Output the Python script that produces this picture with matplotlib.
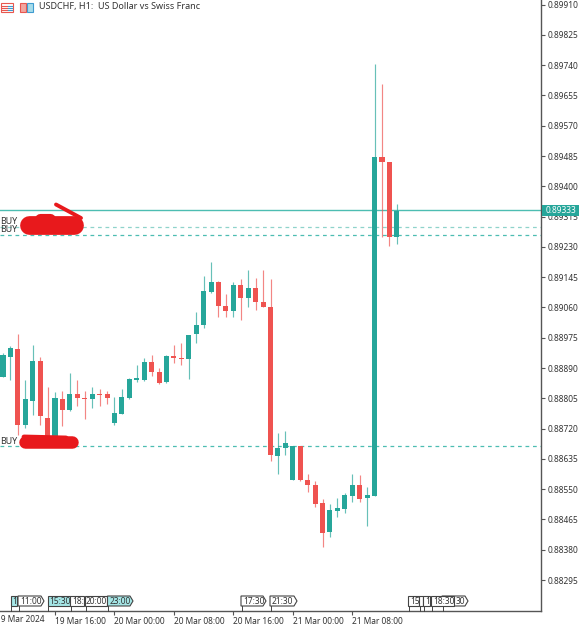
import numpy as np
import matplotlib
matplotlib.use("Agg")
import matplotlib.pyplot as plt
from matplotlib.patches import Polygon, Rectangle

plt.rcParams['font.family'] = ['Noto Sans', 'DejaVu Sans']

# H1 candles, prices in points (1e-5)
opens = [88866, 88922, 88943, 88730, 88798, 88911, 88749, 88699, 88802, 88772, 88817, 88806, 88803, 88817,
         88817, 88735, 88761, 88805, 88857, 88857, 88906, 88878, 88852, 88925, 88919, 88915, 88986, 89011,
         89103, 89131, 89064, 89051, 89123, 89088, 89115, 89076, 89062, 88644, 88667, 88576, 88672, 88576,
         88562, 88511, 88431, 88490, 88495, 88532, 88562, 88526, 88532, 89481, 89469, 89257]
closes = [88927, 88946, 88730, 88802, 88909, 88756, 88699, 88805, 88772, 88817, 88805, 88803, 88817, 88814,
          88805, 88763, 88808, 88859, 88861, 88906, 88878, 88849, 88925, 88918, 88915, 88982, 89011, 89105,
          89131, 89064, 89051, 89123, 89088, 89115, 89074, 89062, 88646, 88667, 88679, 88671, 88576, 88563,
          88509, 88428, 88492, 88497, 88534, 88562, 88522, 88534, 89483, 89468, 89257, 89332]
highs = [88933, 88952, 88986, 88857, 88956, 88922, 88836, 88824, 88826, 88875, 88857, 88826, 88836, 88831,
         88826, 88808, 88831, 88861, 88899, 88918, 88927, 88889, 88926, 88955, 88961, 88983, 89048, 89149,
         89187, 89133, 89097, 89131, 89139, 89165, 89142, 89165, 89139, 88709, 88714, 88671, 88672, 88593,
         88573, 88522, 88509, 88525, 88539, 88593, 88590, 88555, 89744, 89687, 89469, 89351]
lows = [88866, 88857, 88702, 88721, 88758, 88730, 88688, 88688, 88726, 88770, 88784, 88747, 88779, 88784,
        88789, 88730, 88761, 88802, 88852, 88855, 88868, 88845, 88849, 88905, 88899, 88859, 88961, 89003,
        89100, 89034, 89034, 89034, 89025, 89062, 89053, 89061, 88630, 88592, 88646, 88576, 88573, 88542,
        88501, 88389, 88417, 88471, 88484, 88515, 88515, 88447, 88532, 89259, 89233, 89238]

price_ticks = [89910, 89825, 89740, 89655, 89570, 89485, 89400, 89315, 89230, 89145, 89060,
               88975, 88890, 88805, 88720, 88635, 88550, 88465, 88380, 88295]
time_tick_pos = [7, 15, 23, 31, 39, 47]
time_tick_labels = ['19 Mar 16:00', '20 Mar 00:00', '20 Mar 08:00',
                    '20 Mar 16:00', '21 Mar 00:00', '21 Mar 08:00']
first_time_label = '19 Mar 2024'
bid = 89333
order_levels = [89287, 89263, 88671]

GREEN = '#26a69a'
RED = '#ef5350'
LINE = '#4dbdb2'
AXIS = '#555555'
TEXT = '#333333'

W, H = 584, 625
fig = plt.figure(figsize=(W / 100, H / 100), dpi=100, facecolor='white')
ax = fig.add_axes([0, (H - 610.7) / H, 541 / W, 610.7 / H])

o, c, hi, lo = [np.array(a) / 1e5 for a in (opens, closes, highs, lows)]
x = np.arange(len(o))
up = c >= o
colors = [GREEN if u else RED for u in up]

ax.vlines(x, lo, hi, colors=colors, linewidth=0.85, alpha=0.7, zorder=3)
ax.bar(x, np.maximum(np.abs(c - o), 0.00003), bottom=np.minimum(o, c), width=0.68,
       color=colors, linewidth=0, zorder=4)

ax.axhline(bid / 1e5, color=LINE, linewidth=1.0, zorder=2)
ax.axhline(order_levels[0] / 1e5, color='#8fd3cb', linewidth=0.9, linestyle=(0, (3, 3)), zorder=2)
ax.axhline(order_levels[1] / 1e5, color=LINE, linewidth=0.9, linestyle=(0, (3, 3)), zorder=2)
ax.axhline(order_levels[2] / 1e5, color=LINE, linewidth=0.9, linestyle=(0, (3, 3)), zorder=2)

for s in ('top', 'left'):
    ax.spines[s].set_visible(False)
for s in ('right', 'bottom'):
    ax.spines[s].set_color(AXIS)
    ax.spines[s].set_linewidth(1.0)

ax.yaxis.tick_right()
ax.set_yticks([p / 1e5 for p in price_ticks])
ax.set_yticklabels(['%.5f' % (p / 1e5) for p in price_ticks], fontsize=6.0, color=TEXT)
ax.tick_params(axis='y', length=3, width=0.8, color=AXIS, pad=1.5)
ax.set_xticks(time_tick_pos)
ax.set_xticklabels(time_tick_labels, fontsize=6.0, color=TEXT, ha='left')
ax.tick_params(axis='x', length=3, width=0.8, color=AXIS, pad=1.5)
# limits after the ticks, set_xticks widens the view otherwise
ax.set_xlim(-0.404, 72.4)
ax.set_ylim(0.88209, 0.89923)

# overlay in pixel coordinates for the terminal decorations
ov = fig.add_axes([0, 0, 1, 1], facecolor='none')
ov.set_xlim(0, W)
ov.set_ylim(H, 0)
ov.axis('off')

# first time label runs off the left edge
ov.text(-4.5, 619.5, first_time_label, fontsize=6.0, color=TEXT, va='center', ha='left')

# current price box
ov.add_patch(Rectangle((542, 205), 37, 11, facecolor=GREEN, edgecolor='none', zorder=5))
ov.text(560.5, 210.5, '0.89333', color='white', fontsize=6.0, ha='center', va='center', zorder=6)

# header
ov.text(39, 7, 'USDCHF, H1:  US Dollar vs Swiss Franc', fontsize=6.5, color=TEXT, va='center')
ov.add_patch(Rectangle((1, 3), 12, 9, facecolor='white', edgecolor='#e8574f', linewidth=0.8))
for yy in (5.5, 7.5, 9.5):
    ov.plot([2, 7], [yy, yy], color='#e8574f', linewidth=0.8)
    ov.plot([8, 12], [yy, yy], color='#3f9bd0', linewidth=0.8)
ov.add_patch(Rectangle((20, 3), 6, 9, facecolor='#f2a6a0', edgecolor='#e8574f', linewidth=0.8))
ov.add_patch(Rectangle((27, 3), 6, 9, facecolor='#a6dcea', edgecolor='#3f9bd0', linewidth=0.8))

# order labels with the red scribbles over them
for yy in (221, 230, 441):
    ov.text(0.5, yy, 'BUY', fontsize=6.4, color=TEXT, va='center', zorder=6)
SCRIBBLE = '#e8191c'
ov.plot([29, 74], [225, 225], color=SCRIBBLE, linewidth=13.5, solid_capstyle='round', zorder=7)
ov.plot([40, 50], [219, 219], color=SCRIBBLE, linewidth=8, solid_capstyle='round', zorder=7)
ov.plot([56, 81], [204.5, 218], color=SCRIBBLE, linewidth=2.8, solid_capstyle='round', zorder=7)
ov.plot([25, 72], [442, 442], color=SCRIBBLE, linewidth=9, solid_capstyle='round', zorder=7)
ov.plot([24, 66], [437, 438], color=SCRIBBLE, linewidth=3.5, solid_capstyle='round', zorder=7)

# event tags above the time axis: left, right, label, fill, pointed, text x
tags = [(10.5, 17, '1', '#a5e6e6', False, 12), (18, 44, '11:00', 'white', True, 20),
        (47.5, 70, '15:30', '#a5e6e6', False, 49), (70, 84, '18:', 'white', False, 72),
        (85, 107, '20:00', 'white', False, 86), (107.5, 133, '23:00', '#a5e6e6', True, 109.5),
        (241, 266, '17:30', 'white', True, 243), (270, 297, '21:30', 'white', True, 272),
        (408, 419, '15', 'white', False, 410), (419, 423, '', 'white', False, 420),
        (423, 430, '1', 'white', False, 425), (442, 468, '30', 'white', True, 456),
        (431, 454, '18:30', 'white', False, 433)]
for left, right, label, fill, pointed, tx in tags:
    top, bottom = 596, 606
    if pointed:
        pts = [(left, top), (right - 3, top), (right, 601), (right - 3, bottom), (left, bottom)]
    else:
        pts = [(left, top), (right, top), (right, bottom), (left, bottom)]
    tag = Polygon(pts, closed=True, facecolor=fill, edgecolor='#444444', linewidth=0.8, zorder=8)
    ov.add_patch(tag)
    ov.plot([left + 0.5, left + 0.5], [bottom, 610.5], color='#444444', linewidth=0.7, zorder=7)
    if label:
        txt = ov.text(tx, 601, label, fontsize=6.0, color=TEXT, va='center', ha='left', zorder=9)
        txt.set_clip_path(tag)
        txt.set_clip_on(True)

fig.savefig('out.png', dpi=100, facecolor='white')
